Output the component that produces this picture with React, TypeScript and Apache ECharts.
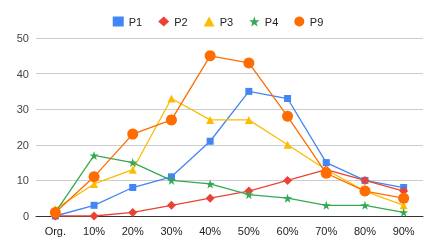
import React, { useEffect, useRef } from "react";
import * as echarts from "echarts";

const categories = ["Org.", "10%", "20%", "30%", "40%", "50%", "60%", "70%", "80%", "90%"];
const p1 = [0, 3, 8, 11, 21, 35, 33, 15, 10, 8];
const p2 = [0, 0, 1, 3, 5, 7, 10, 13, 10, 7];
const p3 = [2, 9, 13, 33, 27, 27, 20, 13, 7, 3];
const p4 = [1, 17, 15, 10, 9, 6, 5, 3, 3, 1];
const p9 = [1, 11, 23, 27, 45, 43, 28, 12, 7, 5];

const seriesDefs = [
  { name: "P1", data: p1, color: "#4285F4", symbol: "rect", size: 7 },
  { name: "P2", data: p2, color: "#EA4335", symbol: "diamond", size: 9 },
  { name: "P3", data: p3, color: "#FBBC04", symbol: "triangle", size: 8 },
  { name: "P4", data: p4, color: "#34A853", symbol: "path://M50,0 L61.8,35.1 L98.9,35.5 L69.1,57.6 L80.3,93 L50,71.6 L19.7,93 L30.9,57.6 L1.1,35.5 L38.2,35.1 Z", size: 9 },
  { name: "P9", data: p9, color: "#FF6D01", symbol: "circle", size: 11 },
];

export default function App() {
  const ref = useRef<HTMLDivElement>(null);
  useEffect(() => {
    const chart = echarts.init(ref.current!, null, { renderer: "svg" });
    chart.setOption({
      animation: false,
      textStyle: { fontFamily: "Liberation Sans, Arial, sans-serif" },
      legend: {
        top: 11,
        left: "center",
        itemGap: 16,
        itemWidth: 11,
        itemHeight: 10,
        textStyle: { fontSize: 11, color: "#222" },
        data: seriesDefs.map((s) => ({ name: s.name, icon: s.symbol })),
      },
      grid: { left: 36, right: 13, top: 38, bottom: 30 },
      xAxis: {
        type: "category",
        data: categories,
        boundaryGap: true,
        axisTick: { show: false },
        axisLine: { lineStyle: { color: "#333" } },
        axisLabel: { color: "#222", fontSize: 11, margin: 9 },
      },
      yAxis: {
        type: "value",
        min: 0,
        max: 50,
        interval: 10,
        axisLabel: { color: "#444", fontSize: 11, margin: 7 },
        splitLine: { lineStyle: { color: "#ccc" } },
        axisLine: { show: false },
        axisTick: { show: false },
      },
      series: seriesDefs.map((s) => ({
        name: s.name,
        type: "line",
        data: s.data,
        symbol: s.symbol,
        symbolSize: s.size,
        showAllSymbol: true,
        itemStyle: { color: s.color },
        lineStyle: { color: s.color, width: 1.3 },
      })),
    });
    return () => chart.dispose();
  }, []);
  return (
    <div
      ref={ref}
      style={{ position: "fixed", left: 0, top: 0, width: 436, height: 246 }}
    />
  );
}
